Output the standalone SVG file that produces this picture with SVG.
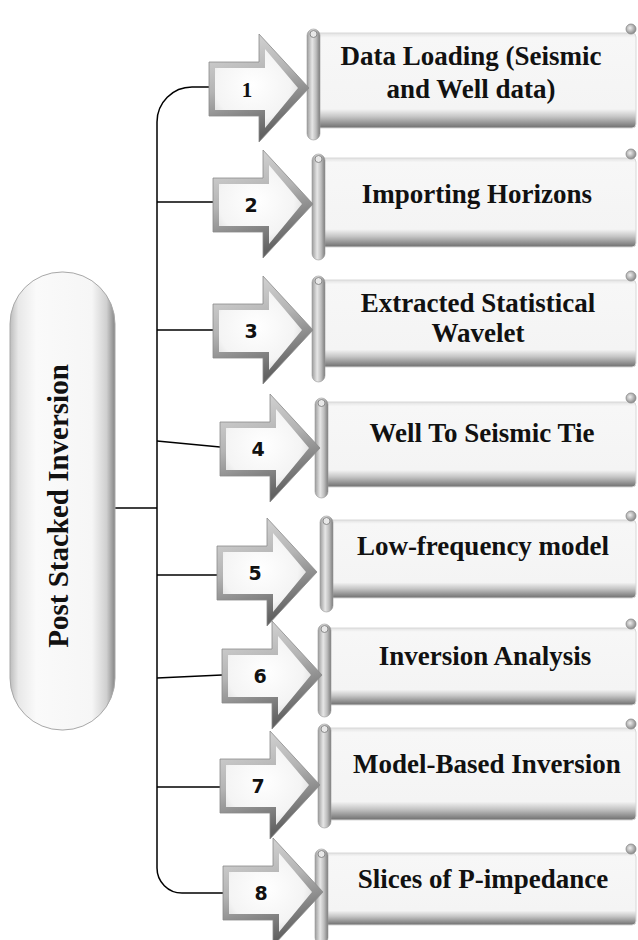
<svg xmlns="http://www.w3.org/2000/svg" width="638" height="940" viewBox="0 0 638 940">
  <style>
    .lbl { font-family: "Liberation Serif", "Times New Roman", serif; font-weight: bold; font-size: 27px; fill: #111; text-anchor: middle; }
    .num { font-family: "DejaVu Sans", "Liberation Sans", sans-serif; font-weight: bold; font-size: 19px; fill: #111; text-anchor: middle; }
    .title { font-family: "Liberation Serif", "Times New Roman", serif; font-weight: bold; font-size: 29px; fill: #111; text-anchor: middle; }
    .wire { fill: none; stroke: #000; stroke-width: 1.5; }
    .box { fill: url(#boxGrad); stroke: #d8d8d8; stroke-width: 1; }
    .rod { fill: url(#rodGrad); stroke: #9a9a9a; stroke-width: 0.6; }
    .curl { fill: url(#curlGrad); stroke: #8a8a8a; stroke-width: 0.8; }
    .rodcap { fill: #e8e8e8; stroke: #8a8a8a; stroke-width: 1; }
  </style>
  <defs>
    <linearGradient id="boxGrad" x1="0" y1="0" x2="0" y2="1">
      <stop offset="0" stop-color="#e2e2e2"/>
      <stop offset="0.05" stop-color="#f7f7f7"/>
      <stop offset="0.8" stop-color="#f4f4f4"/>
      <stop offset="0.88" stop-color="#c6c6c6"/>
      <stop offset="1" stop-color="#6e6e6e"/>
    </linearGradient>
    <linearGradient id="rodGrad" x1="0" y1="0" x2="1" y2="0">
      <stop offset="0" stop-color="#9c9c9c"/>
      <stop offset="0.4" stop-color="#e6e6e6"/>
      <stop offset="0.7" stop-color="#bdbdbd"/>
      <stop offset="1" stop-color="#7c7c7c"/>
    </linearGradient>
    <radialGradient id="curlGrad" cx="0.4" cy="0.4" r="0.6">
      <stop offset="0" stop-color="#eeeeee"/>
      <stop offset="1" stop-color="#8c8c8c"/>
    </radialGradient>
    <linearGradient id="arrowOuter" x1="0" y1="0" x2="0.3" y2="1">
      <stop offset="0" stop-color="#dcdcdc"/>
      <stop offset="0.5" stop-color="#b4b4b4"/>
      <stop offset="1" stop-color="#626262"/>
    </linearGradient>
    <radialGradient id="arrowInner" cx="0.45" cy="0.45" r="0.65">
      <stop offset="0" stop-color="#ffffff"/>
      <stop offset="0.7" stop-color="#f4f4f4"/>
      <stop offset="1" stop-color="#d6d6d6"/>
    </radialGradient>
    <linearGradient id="pillGrad" x1="0" y1="0" x2="1" y2="0">
      <stop offset="0" stop-color="#bdbdbd"/>
      <stop offset="0.08" stop-color="#e8e8e8"/>
      <stop offset="0.25" stop-color="#fafafa"/>
      <stop offset="0.78" stop-color="#f6f6f6"/>
      <stop offset="0.92" stop-color="#cfcfcf"/>
      <stop offset="1" stop-color="#858585"/>
    </linearGradient>
    <!-- bevelled block arrow, origin at left edge of the shaft, centred vertically -->
    <g id="arrow">
      <path d="M0,-26 H50 V-54 L100,0 L50,54 V28 H0 Z" fill="url(#arrowOuter)" stroke="#8a8a8a" stroke-width="0.8"/>
      <path d="M6,-20 H56 V-39 L89,0 L56,40 V22 H6 Z" fill="url(#arrowInner)"/>
    </g>
  </defs>

  <!-- connectors -->
  <g id="connectors">
    <path class="wire" d="M209,87 H192 A35,35 0 0 0 157,122 V868 A25,25 0 0 0 182,893 H223"/>
    <path class="wire" d="M115,508 H157"/>
    <path class="wire" d="M157,202 H213"/>
    <path class="wire" d="M157,330 H213"/>
    <path class="wire" d="M157,441 L220,447"/>
    <path class="wire" d="M157,575 H217"/>
    <path class="wire" d="M157,678 L222,675"/>
    <path class="wire" d="M157,787 H220"/>
  </g>

  <!-- root node -->
  <g id="root">
    <rect x="10" y="272" width="105" height="458" rx="52" fill="url(#pillGrad)" stroke="#a8a8a8" stroke-width="1"/>
    <text class="title" transform="translate(68,506) rotate(-90)">Post Stacked Inversion</text>
  </g>

  <!-- step 1 -->
  <g id="step1">
    <rect class="box" x="313" y="33" width="323" height="95" rx="4"/>
    <circle class="curl" cx="631" cy="29" r="5"/>
    <rect class="rod" x="307" y="29" width="13" height="111" rx="6.5"/>
    <circle class="rodcap" cx="313.5" cy="34" r="3.5"/>
    <use href="#arrow" x="209" y="88"/>
    <text class="num" x="247" y="97" style="font-family:'Liberation Serif',serif;font-size:21px">1</text>
    <text class="lbl" x="471" y="65">Data Loading (Seismic</text>
    <text class="lbl" x="471" y="98">and Well data)</text>
  </g>

  <!-- step 2 -->
  <g id="step2">
    <rect class="box" x="318" y="158" width="318" height="89" rx="4"/>
    <circle class="curl" cx="631" cy="154" r="5"/>
    <rect class="rod" x="312" y="154" width="13" height="106" rx="6.5"/>
    <circle class="rodcap" cx="318.5" cy="159" r="3.5"/>
    <use href="#arrow" x="213" y="204"/>
    <text class="num" x="251" y="212">2</text>
    <text class="lbl" x="477" y="203">Importing Horizons</text>
  </g>

  <!-- step 3 -->
  <g id="step3">
    <rect class="box" x="318" y="280" width="318" height="87" rx="4"/>
    <circle class="curl" cx="631" cy="276" r="5"/>
    <rect class="rod" x="312" y="276" width="13" height="106" rx="6.5"/>
    <circle class="rodcap" cx="318.5" cy="281" r="3.5"/>
    <use href="#arrow" x="213" y="330"/>
    <text class="num" x="251" y="338">3</text>
    <text class="lbl" x="478" y="312">Extracted Statistical</text>
    <text class="lbl" x="478" y="342">Wavelet</text>
  </g>

  <!-- step 4 -->
  <g id="step4">
    <rect class="box" x="321" y="402" width="315" height="85" rx="4"/>
    <circle class="curl" cx="631" cy="398" r="5"/>
    <rect class="rod" x="315" y="398" width="13" height="100" rx="6.5"/>
    <circle class="rodcap" cx="321.5" cy="403" r="3.5"/>
    <use href="#arrow" x="220" y="448"/>
    <text class="num" x="258" y="456">4</text>
    <text class="lbl" x="482" y="442">Well To Seismic Tie</text>
  </g>

  <!-- step 5 -->
  <g id="step5">
    <rect class="box" x="326" y="520" width="310" height="78" rx="4"/>
    <circle class="curl" cx="631" cy="516" r="5"/>
    <rect class="rod" x="320" y="516" width="13" height="96" rx="6.5"/>
    <circle class="rodcap" cx="326.5" cy="521" r="3.5"/>
    <use href="#arrow" x="217" y="572"/>
    <text class="num" x="255" y="580">5</text>
    <text class="lbl" x="483" y="555">Low-frequency model</text>
  </g>

  <!-- step 6 -->
  <g id="step6">
    <rect class="box" x="324" y="628" width="312" height="77" rx="4"/>
    <circle class="curl" cx="631" cy="624" r="5"/>
    <rect class="rod" x="318" y="624" width="13" height="93" rx="6.5"/>
    <circle class="rodcap" cx="324.5" cy="629" r="3.5"/>
    <use href="#arrow" x="222" y="675"/>
    <text class="num" x="260" y="683">6</text>
    <text class="lbl" x="485" y="665">Inversion Analysis</text>
  </g>

  <!-- step 7 -->
  <g id="step7">
    <rect class="box" x="324" y="728" width="312" height="92" rx="4"/>
    <circle class="curl" cx="631" cy="724" r="5"/>
    <rect class="rod" x="318" y="724" width="13" height="104" rx="6.5"/>
    <circle class="rodcap" cx="324.5" cy="729" r="3.5"/>
    <use href="#arrow" x="220" y="785"/>
    <text class="num" x="258" y="793">7</text>
    <text class="lbl" x="487" y="773">Model-Based Inversion</text>
  </g>

  <!-- step 8 -->
  <g id="step8">
    <rect class="box" x="321" y="853" width="315" height="72" rx="4"/>
    <circle class="curl" cx="631" cy="849" r="5"/>
    <rect class="rod" x="315" y="849" width="13" height="95" rx="6.5"/>
    <circle class="rodcap" cx="321.5" cy="854" r="3.5"/>
    <use href="#arrow" x="223" y="892"/>
    <text class="num" x="261" y="900">8</text>
    <text class="lbl" x="483" y="888">Slices of P-impedance</text>
  </g>
</svg>
